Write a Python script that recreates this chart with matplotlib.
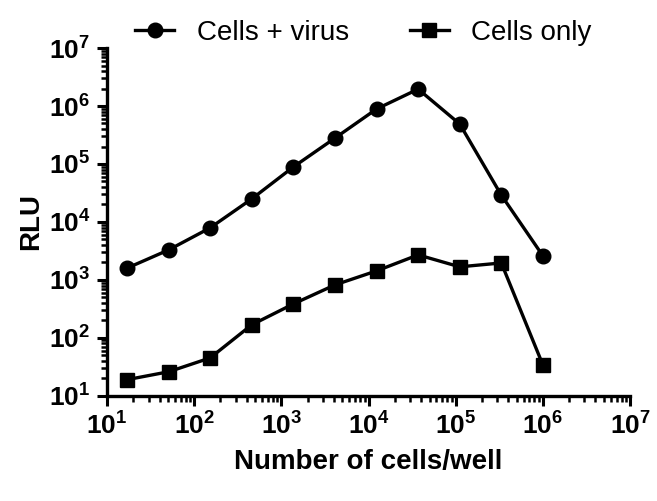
import matplotlib
matplotlib.use("Agg")
import matplotlib.pyplot as plt
import numpy as np
from matplotlib.ticker import LogLocator, NullFormatter, FuncFormatter

# Data (3-fold dilutions of cells per well)
cells_per_well = [17, 51, 152, 457, 1372, 4115, 12346, 37037, 111111, 333333, 1000000]
cells_virus = [1600, 3300, 7900, 25000, 89000, 280000, 890000, 1960000, 490000, 29000, 2600]
cells_only = [19, 26, 45, 168, 385, 820, 1430, 2700, 1680, 1960, 34]

plt.rcParams.update({
    "font.family": ["Liberation Sans", "DejaVu Sans"],
    "mathtext.fontset": "custom",
    "mathtext.rm": "Liberation Sans:bold",
    "mathtext.it": "Liberation Sans:bold",
    "mathtext.bf": "Liberation Sans:bold",
    "mathtext.sf": "Liberation Sans:bold",
})

fig = plt.figure(figsize=(6.57, 5.01), dpi=100)
ax = fig.add_axes([0.163, 0.210, 0.796, 0.694])

ax.plot(cells_per_well, cells_virus, "-o", color="black", lw=2.4, ms=10.5,
        label="Cells + virus")
ax.plot(cells_per_well, cells_only, "-s", color="black", lw=2.4, ms=10.5,
        label="Cells only")

ax.set_xscale("log")
ax.set_yscale("log")
ax.set_xlim(10, 1e7)
ax.set_ylim(10, 1e7)


def pow10(v, pos):
    return r"$\mathbf{10^{%d}}$" % int(round(np.log10(v)))


for axis in (ax.xaxis, ax.yaxis):
    axis.set_major_locator(LogLocator(base=10, numticks=20))
    axis.set_major_formatter(FuncFormatter(pow10))
    axis.set_minor_locator(LogLocator(base=10, subs=range(2, 10), numticks=20))
    axis.set_minor_formatter(NullFormatter())

ax.spines["top"].set_visible(False)
ax.spines["right"].set_visible(False)
for s in ("left", "bottom"):
    ax.spines[s].set_linewidth(2.4)

ax.tick_params(which="major", direction="out", length=7, width=2.2, labelsize=19, pad=5)
ax.tick_params(which="minor", direction="out", length=4, width=1.8)

ax.set_xlabel("Number of cells/well", fontsize=20, fontweight="bold", labelpad=7)
ax.set_ylabel("RLU", fontsize=20, fontweight="bold", labelpad=3)

ax.legend(loc="lower center", bbox_to_anchor=(0.49, 0.975), ncol=2, frameon=False,
          fontsize=20, handlelength=1.4, columnspacing=2.2, handletextpad=0.8,
          borderaxespad=0)

fig.savefig("out.png", dpi=100)
